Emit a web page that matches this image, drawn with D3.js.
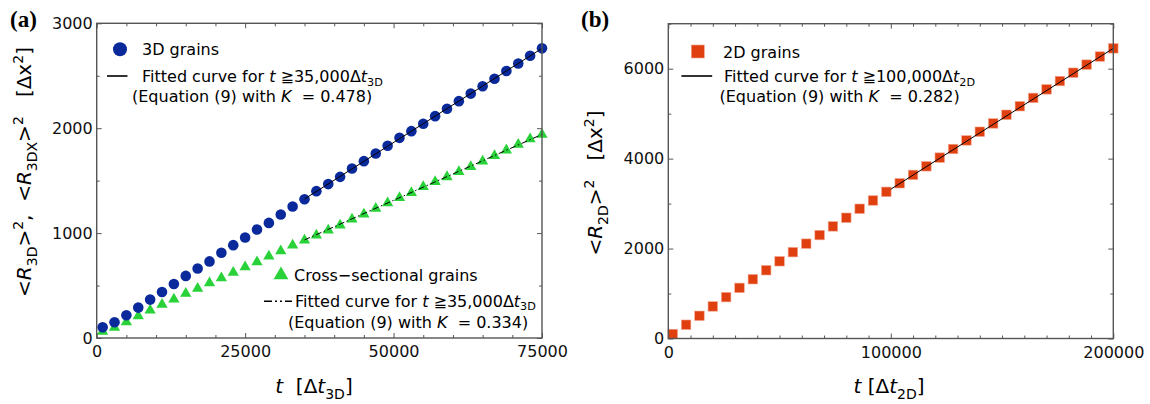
<!DOCTYPE html>
<html>
<head>
<meta charset="utf-8">
<script src="https://cdn.jsdelivr.net/npm/d3@7"></script>
<style>
  body { margin: 0; background: #fff; }
  svg { display: block; font-family: "DejaVu Sans", sans-serif; }
</style>
</head>
<body>
<svg id="chart" width="1150" height="404"></svg>
<script>
// ---- data ----
// panel (a): 3D grains and cross-sectional grains
const t3D = [1000, 3000, 5000, 7000, 9000, 11000, 13000, 15000, 17000, 19000,
  21000, 23000, 25000, 27000, 29000, 31000, 33000, 35000, 37000, 39000,
  41000, 43000, 45000, 47000, 49000, 51000, 53000, 55000, 57000, 59000,
  61000, 63000, 65000, 67000, 69000, 71000, 73000, 75000];
const r3D = [102, 150, 217, 290, 366, 439, 515, 592, 662, 730,
  813, 885, 958, 1034, 1097, 1177, 1254, 1323, 1400, 1467,
  1536, 1616, 1686, 1759, 1832, 1908, 1972, 2042, 2115, 2185,
  2258, 2330, 2400, 2472, 2545, 2617, 2690, 2761];
const r3DX = [62, 99, 153, 210, 264, 319, 369, 424, 471, 525,
  573, 624, 677, 725, 780, 829, 885, 932, 980, 1028,
  1075, 1133, 1180, 1235, 1288, 1336, 1384, 1441, 1489, 1536,
  1584, 1632, 1686, 1737, 1791, 1845, 1896, 1941];
// fitted lines (end points)
const fit3D_t = [35000, 75000];
const fit3D_v = [1325, 2761];
const fit3DX_t = [35000, 75000];
const fit3DX_v = [935, 1941];

// panel (b): 2D grains
const t2D = [2000, 8000, 14000, 20000, 26000, 32000, 38000, 44000, 50000, 56000,
  62000, 68000, 74000, 80000, 86000, 92000, 98000, 104000, 110000, 116000,
  122000, 128000, 134000, 140000, 146000, 152000, 158000, 164000, 170000, 176000,
  182000, 188000, 194000, 200000];
const r2D = [100, 306, 505, 713, 920, 1126, 1318, 1518, 1717, 1920,
  2109, 2300, 2493, 2685, 2885, 3069, 3262, 3452, 3638, 3829,
  4022, 4214, 4405, 4598, 4782, 4975, 5165, 5350, 5540, 5725,
  5910, 6090, 6270, 6452];
const fit2D_t = [100000, 200000];
const fit2D_v = [3320, 6452];

// ticks
const ticksA_x = [0, 25000, 50000, 75000];
const ticksA_y = [0, 1000, 2000, 3000];
const ticksB_x = [0, 100000, 200000];
const ticksB_y = [0, 2000, 4000, 6000];

const blue = "#0a2a9c";
const green = "#2ad23a";
const red = "#e0400f";
const NB = "\u00a0";

const svg = d3.select("#chart");

// text with italic / sub / superscript pieces
function rich(sel, parts, size, subK = 0.3) {
  let shift = 0;
  parts.forEach(p => {
    const target = p.sub ? size * subK : p.sup ? -size * 0.42 : 0;
    const ts = sel.append("tspan").text(p.t).attr("dy", target - shift);
    if (p.sub || p.sup) ts.attr("font-size", size * 0.7);
    if (p.i) ts.attr("font-style", "italic");
    shift = target;
  });
  return sel;
}

function frame(g, x, y) {
  const [x0, x1] = x.range();
  const [y0, y1] = y.range();
  g.append("rect")
    .attr("x", x0).attr("y", y1)
    .attr("width", x1 - x0).attr("height", y0 - y1)
    .attr("fill", "none").attr("stroke", "#555").attr("stroke-width", 1.4);
}

function drawAxes(g, x, y, xMaj, yMaj, xMinorStep, yMinorStep) {
  const [x0, x1] = x.domain();
  const [y0, y1] = y.domain();
  const xMin = d3.range(x0, x1 + 1, xMinorStep).filter(v => !xMaj.includes(v));
  const yMin = d3.range(y0, y1 + 1, yMinorStep).filter(v => !yMaj.includes(v));
  const H = y.range()[0], T = y.range()[1];
  const L = x.range()[0], R = x.range()[1];

  const style = s => {
    s.select(".domain").remove();
    s.selectAll("line").attr("stroke", "#555").attr("stroke-width", 1);
    s.selectAll("text").attr("fill", "#111").attr("font-size", 16)
      .attr("font-family", "'DejaVu Sans', sans-serif");
  };

  // bottom with labels
  g.append("g").attr("transform", `translate(0,${H})`)
    .call(d3.axisBottom(x).tickValues(xMaj).tickFormat(d3.format("d"))
      .tickSizeInner(-5).tickSizeOuter(0).tickPadding(8))
    .call(style);
  g.append("g").attr("transform", `translate(0,${H})`)
    .call(d3.axisBottom(x).tickValues(xMin).tickFormat("").tickSizeInner(-3).tickSizeOuter(0))
    .call(style);
  // top mirrored
  g.append("g").attr("transform", `translate(0,${T})`)
    .call(d3.axisTop(x).tickValues(xMaj).tickFormat("").tickSizeInner(-5).tickSizeOuter(0))
    .call(style);
  g.append("g").attr("transform", `translate(0,${T})`)
    .call(d3.axisTop(x).tickValues(xMin).tickFormat("").tickSizeInner(-3).tickSizeOuter(0))
    .call(style);
  // left with labels
  g.append("g").attr("transform", `translate(${L},0)`)
    .call(d3.axisLeft(y).tickValues(yMaj).tickFormat(d3.format("d"))
      .tickSizeInner(-5).tickSizeOuter(0).tickPadding(4))
    .call(style);
  g.append("g").attr("transform", `translate(${L},0)`)
    .call(d3.axisLeft(y).tickValues(yMin).tickFormat("").tickSizeInner(-3).tickSizeOuter(0))
    .call(style);
  // right mirrored
  g.append("g").attr("transform", `translate(${R},0)`)
    .call(d3.axisRight(y).tickValues(yMaj).tickFormat("").tickSizeInner(-5).tickSizeOuter(0))
    .call(style);
  g.append("g").attr("transform", `translate(${R},0)`)
    .call(d3.axisRight(y).tickValues(yMin).tickFormat("").tickSizeInner(-3).tickSizeOuter(0))
    .call(style);
}

const fitLine = (x, y) => d3.line().x(d => x(d[0])).y(d => y(d[1]));

/* ---------------- panel (a) ---------------- */
const xA = d3.scaleLinear().domain([0, 75000]).range([96.7, 542]);
const yA = d3.scaleLinear().domain([0, 3000]).range([338, 23.3]);
const gA = svg.append("g");

drawAxes(gA, xA, yA, ticksA_x, ticksA_y, 5000, 500);

gA.append("g").selectAll("path")
  .data(d3.zip(t3D, r3DX))
  .join("path")
  .attr("d", d3.symbol(d3.symbolTriangle, 55))
  .attr("transform", d => `translate(${xA(d[0])},${yA(d[1])})`)
  .attr("fill", green);

gA.append("g").selectAll("circle")
  .data(d3.zip(t3D, r3D))
  .join("circle")
  .attr("cx", d => xA(d[0])).attr("cy", d => yA(d[1]))
  .attr("r", 5.3).attr("fill", blue);

gA.append("path").datum(d3.zip(fit3D_t, fit3D_v))
  .attr("d", fitLine(xA, yA)).attr("fill", "none")
  .attr("stroke", "#000").attr("stroke-width", 1);
gA.append("path").datum(d3.zip(fit3DX_t, fit3DX_v))
  .attr("d", fitLine(xA, yA)).attr("fill", "none")
  .attr("stroke", "#000").attr("stroke-width", 1)
  .attr("stroke-dasharray", "6,2.5,1.5,2.5");

frame(gA, xA, yA);

// legend (a) upper
gA.append("circle").attr("cx", 120).attr("cy", 49.3).attr("r", 7).attr("fill", blue);
rich(gA.append("text").attr("x", 142).attr("y", 55).attr("font-size", 16),
  [{t: "3D grains"}], 16);
gA.append("line").attr("x1", 107).attr("x2", 127.5).attr("y1", 76).attr("y2", 76)
  .attr("stroke", "#000").attr("stroke-width", 1.6);
rich(gA.append("text").attr("x", 142).attr("y", 82).attr("font-size", 16),
  [{t: "Fitted curve for "}, {t: "t", i: true}, {t: " \u226735,000\u0394"}, {t: "t", i: true}, {t: "3D", sub: true}], 16, 0.22);
rich(gA.append("text").attr("x", 132).attr("y", 102).attr("font-size", 16),
  [{t: "(Equation (9) with "}, {t: "K", i: true}, {t: NB + NB + "= 0.478)"}], 16);

// legend (a) lower
gA.append("path").attr("d", d3.symbol(d3.symbolTriangle, 95))
  .attr("transform", "translate(281,275)").attr("fill", green);
rich(gA.append("text").attr("x", 294).attr("y", 280.5).attr("font-size", 16),
  [{t: "Cross\u2212sectional grains"}], 16);
gA.append("line").attr("x1", 264).attr("x2", 292).attr("y1", 301.2).attr("y2", 301.2)
  .attr("stroke", "#000").attr("stroke-width", 1.6).attr("stroke-dasharray", "8,3,2,3,2,3");
rich(gA.append("text").attr("x", 295).attr("y", 306.5).attr("font-size", 16),
  [{t: "Fitted curve for "}, {t: "t", i: true}, {t: " \u226735,000\u0394"}, {t: "t", i: true}, {t: "3D", sub: true}], 16, 0.2);
rich(gA.append("text").attr("x", 288).attr("y", 327.5).attr("font-size", 16),
  [{t: "(Equation (9) with "}, {t: "K", i: true}, {t: NB + NB + "= 0.334)"}], 16);

// axis titles (a)
rich(gA.append("text").attr("text-anchor", "middle").attr("font-size", 20)
  .attr("transform", "translate(31,172) rotate(-90)"),
  [{t: "<"}, {t: "R", i: true}, {t: "3D", sub: true}, {t: ">"}, {t: "2", sup: true},
   {t: "," + NB + NB + "<"}, {t: "R", i: true}, {t: "3DX", sub: true}, {t: ">"}, {t: "2", sup: true},
   {t: NB + NB + NB + "[\u0394x"}, {t: "2", sup: true}, {t: "]"}], 20);
rich(gA.append("text").attr("x", 314).attr("y", 393).attr("text-anchor", "middle").attr("font-size", 20),
  [{t: "t", i: true}, {t: NB + NB + "[\u0394"}, {t: "t", i: true}, {t: "3D", sub: true}, {t: "]"}], 20);

svg.append("text").attr("x", 10).attr("y", 27)
  .attr("font-family", "'Liberation Serif', serif").attr("font-weight", "bold")
  .attr("font-size", 23).text("(a)");

/* ---------------- panel (b) ---------------- */
const xB = d3.scaleLinear().domain([0, 200000]).range([668.3, 1113.3]);
const yB = d3.scaleLinear().domain([0, 7000]).range([338.5, 23.7]);
const gB = svg.append("g");

drawAxes(gB, xB, yB, ticksB_x, ticksB_y, 10000, 1000);

gB.append("g").selectAll("rect")
  .data(d3.zip(t2D, r2D))
  .join("rect")
  .attr("x", d => xB(d[0]) - 4.75).attr("y", d => yB(d[1]) - 4.75)
  .attr("width", 9.5).attr("height", 9.5)
  .attr("fill", red).attr("stroke", "#f2a48c").attr("stroke-width", 0.6);

gB.append("path").datum(d3.zip(fit2D_t, fit2D_v))
  .attr("d", fitLine(xB, yB)).attr("fill", "none")
  .attr("stroke", "#000").attr("stroke-width", 1);

frame(gB, xB, yB);

// legend (b)
gB.append("rect").attr("x", 691.3).attr("y", 45).attr("width", 13).attr("height", 13)
  .attr("fill", red).attr("stroke", "#f2a48c").attr("stroke-width", 0.6);
rich(gB.append("text").attr("x", 723).attr("y", 57.5).attr("font-size", 16),
  [{t: "2D grains"}], 16);
gB.append("line").attr("x1", 681.4).attr("x2", 712.2).attr("y1", 76).attr("y2", 76)
  .attr("stroke", "#000").attr("stroke-width", 1.6);
rich(gB.append("text").attr("x", 724).attr("y", 82).attr("font-size", 16),
  [{t: "Fitted curve for "}, {t: "t", i: true}, {t: " \u2267100,000\u0394"}, {t: "t", i: true}, {t: "2D", sub: true}], 16, 0.22);
rich(gB.append("text").attr("x", 719.5).attr("y", 102).attr("font-size", 16),
  [{t: "(Equation (9) with "}, {t: "K", i: true}, {t: NB + NB + "= 0.282)"}], 16);

// axis titles (b)
rich(gB.append("text").attr("text-anchor", "middle").attr("font-size", 20)
  .attr("transform", "translate(602,183) rotate(-90)"),
  [{t: "<"}, {t: "R", i: true}, {t: "2D", sub: true}, {t: ">"}, {t: "2", sup: true},
   {t: NB + NB + NB + "[\u0394x"}, {t: "2", sup: true}, {t: "]"}], 20);
rich(gB.append("text").attr("x", 889).attr("y", 393).attr("text-anchor", "middle").attr("font-size", 20),
  [{t: "t", i: true}, {t: " [\u0394"}, {t: "t", i: true}, {t: "2D", sub: true}, {t: "]"}], 20);

svg.append("text").attr("x", 581).attr("y", 27)
  .attr("font-family", "'Liberation Serif', serif").attr("font-weight", "bold")
  .attr("font-size", 23).text("(b)");
</script>
</body>
</html>
